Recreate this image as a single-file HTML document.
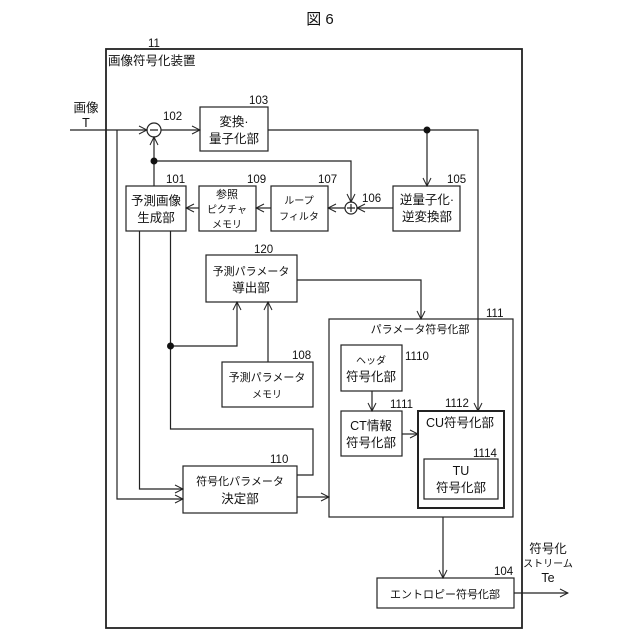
<!DOCTYPE html><html><head><meta charset="utf-8"><style>body{margin:0;background:#fff}svg{display:block}text{font-family:"Liberation Sans","Noto Sans CJK JP",sans-serif;fill:#111}</style></head><body>
<svg width="640" height="640" viewBox="0 0 640 640" xmlns="http://www.w3.org/2000/svg">
<defs><marker id="a" markerWidth="10" markerHeight="10" refX="9" refY="5" orient="auto" markerUnits="userSpaceOnUse"><path d="M1,1 L9,5 L1,9" fill="none" stroke="#222" stroke-width="1"/></marker></defs>
<g fill="none" stroke="#222" stroke-width="1.2">
<rect x="106" y="49" width="416" height="579" stroke-width="1.8"/>
<rect x="200" y="107" width="68" height="44"/>
<rect x="126" y="186" width="60" height="45"/>
<rect x="199" y="186" width="57" height="45"/>
<rect x="271" y="186" width="57" height="45"/>
<rect x="393" y="186" width="67" height="45"/>
<circle cx="154" cy="130" r="7"/>
<circle cx="351" cy="208" r="6"/>
<rect x="206" y="255" width="91" height="47"/>
<rect x="222" y="362" width="91" height="45"/>
<rect x="329" y="319" width="184" height="198"/>
<rect x="341" y="345" width="61" height="46"/>
<rect x="341" y="411" width="61" height="45"/>
<rect x="418" y="411" width="86" height="97" stroke-width="2"/>
<rect x="424" y="459" width="74" height="40"/>
<rect x="183" y="466" width="114" height="47"/>
<rect x="377" y="578" width="137" height="30"/>
<path d="M70 130H147" marker-end="url(#a)"/>
<path d="M161 130H200" marker-end="url(#a)"/>
<path d="M154 186V137" marker-end="url(#a)"/>
<path d="M154 161H351V202" marker-end="url(#a)"/>
<path d="M268 130H478V411" marker-end="url(#a)"/>
<path d="M427 130V186" marker-end="url(#a)"/>
<path d="M393 208H357" marker-end="url(#a)"/>
<path d="M345 208H328" marker-end="url(#a)"/>
<path d="M271 208H256" marker-end="url(#a)"/>
<path d="M199 208H186" marker-end="url(#a)"/>
<path d="M117 130V499H183" marker-end="url(#a)"/>
<path d="M139.5 231V489H183" marker-end="url(#a)"/>
<path d="M170.5 231V429H313V475H297"/>
<path d="M170.5 346H237V302" marker-end="url(#a)"/>
<path d="M268 362V302" marker-end="url(#a)"/>
<path d="M297 280H421V319" marker-end="url(#a)"/>
<path d="M372 391V411" marker-end="url(#a)"/>
<path d="M402 434H418" marker-end="url(#a)"/>
<path d="M297 497H329" marker-end="url(#a)"/>
<path d="M443 517V578" marker-end="url(#a)"/>
<path d="M514 593H568" marker-end="url(#a)"/>
<path d="M150 130H158M351 204V212M347 208H355"/>
</g>
<g fill="#111"><circle cx="154" cy="161" r="3.5"/><circle cx="427" cy="130" r="3.5"/><circle cx="170.5" cy="346" r="3.5"/></g>
<g font-size="12.5" text-anchor="middle">
<text x="320" y="24" font-size="15">図 6</text>
<text x="86" y="112">画像</text><text x="86" y="127">T</text>
<text x="234" y="126">変換·</text><text x="234" y="143">量子化部</text>
<text x="156" y="205">予測画像</text><text x="156" y="222">生成部</text>
<text x="227" y="198" font-size="11">参照</text><text x="227" y="213" font-size="10">ピクチャ</text><text x="227" y="228" font-size="10">メモリ</text>
<text x="299" y="204" font-size="10">ループ</text><text x="299" y="220" font-size="10">フィルタ</text>
<text x="427" y="204">逆量子化·</text><text x="427" y="221">逆変換部</text>
<text x="251" y="275" font-size="11">予測パラメータ</text><text x="251" y="292">導出部</text>
<text x="267" y="381" font-size="11">予測パラメータ</text><text x="267" y="398" font-size="10">メモリ</text>
<text x="420" y="333" font-size="11">パラメータ符号化部</text>
<text x="371" y="364" font-size="10">ヘッダ</text><text x="371" y="381">符号化部</text>
<text x="371" y="430">CT情報</text><text x="371" y="447">符号化部</text>
<text x="460" y="427">CU符号化部</text>
<text x="461" y="475">TU</text><text x="461" y="492">符号化部</text>
<text x="240" y="485" font-size="11">符号化パラメータ</text><text x="240" y="503">決定部</text>
<text x="445" y="598" font-size="11">エントロピー符号化部</text>
<text x="548" y="553">符号化</text><text x="548" y="567" font-size="10">ストリーム</text><text x="548" y="582">Te</text>
</g>
<g font-size="11.5">
<text x="108" y="65" font-size="12.5">画像符号化装置</text>
<text x="148" y="47">11</text>
<text x="163" y="120">102</text><text x="249" y="104">103</text><text x="166" y="183">101</text>
<text x="247" y="183">109</text><text x="318" y="183">107</text><text x="362" y="202">106</text><text x="447" y="183">105</text>
<text x="254" y="253">120</text><text x="292" y="359">108</text><text x="486" y="317">111</text>
<text x="405" y="360">1110</text><text x="390" y="408">1111</text><text x="445" y="407">1112</text><text x="473" y="457">1114</text>
<text x="270" y="463">110</text><text x="494" y="575">104</text>
</g>
</svg></body></html>
